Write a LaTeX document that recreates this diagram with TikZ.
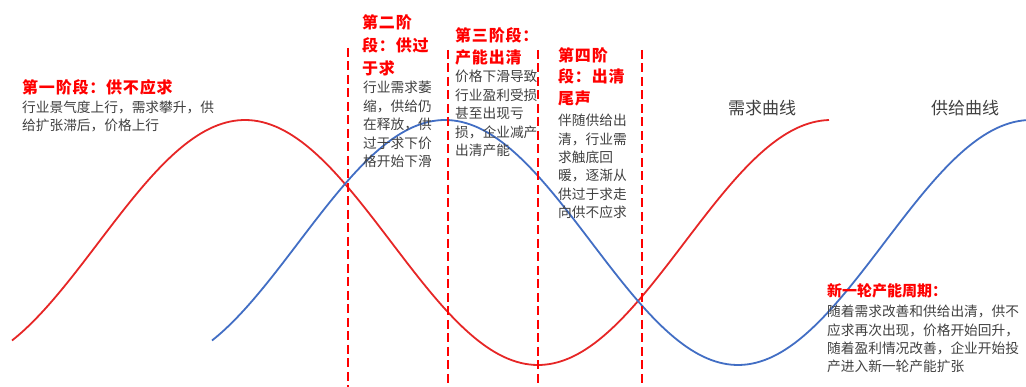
\documentclass[tikz,border=0pt]{standalone}
\usepackage{fontspec}
\setmainfont{Noto Sans CJK SC}
\definecolor{demandred}{RGB}{230,38,38}
\definecolor{supplyblue}{RGB}{66,110,196}
\definecolor{bodygray}{RGB}{64,64,64}
\definecolor{titlered}{RGB}{255,0,0}
\tikzset{
  curve/.style={line width=1.8pt},
  divider/.style={draw=titlered, line width=2pt, dash pattern=on 9pt off 4.5pt},
  stagetitle/.style={anchor=north west, inner sep=0pt, align=left, text=titlered, font=\bfseries\fontsize{16}{#1}\selectfont\addfontfeature{LetterSpace=5}},
  stagebody/.style={anchor=north west, inner sep=0pt, align=left, text=bodygray, font=\fontsize{13.7}{#1}\selectfont},
  curvelabel/.style={inner sep=0pt, text=bodygray, font=\fontsize{17}{20}\selectfont}
}
\begin{document}
\begin{tikzpicture}[x=1pt,y=-1pt]
\useasboundingbox (0,0) rectangle (1026,387);
% curves
\draw[curve, demandred] plot[domain=12:829, samples=200, smooth] (\x, {242.5-122.5*cos((\x-245)/293*180)});
\draw[curve, supplyblue] plot[domain=212:1026, samples=200, smooth] (\x, {242.5-122.5*cos((\x-445)/293*180)});
% dividers
\coordinate (d1t) at (348,48); \coordinate (d1b) at (348,387);
\coordinate (d2t) at (448,50); \coordinate (d2b) at (448,387);
\coordinate (d3t) at (538,50); \coordinate (d3b) at (538,387);
\coordinate (d4t) at (642,50); \coordinate (d4b) at (642,387);
\draw[divider] (d1t) -- (d1b);
\draw[divider] (d2t) -- (d2b);
\draw[divider] (d3t) -- (d3b);
\draw[divider] (d4t) -- (d4b);
% stage 1
\node[stagetitle=20] (s1t) at (22,79.5) {第一阶段：供不应求};
\node[stagebody=18] (s1b) at (22,101) {行业景气度上行，需求攀升，供\\给扩张滞后，价格上行};
% stage 2
\node[stagetitle=23] (s2t) at (362,14) {第二阶\\段：供过\\于求};
\node[stagebody=18.5] (s2b) at (363,81) {行业需求萎\\缩，供给仍\\在释放，供\\过于求下价\\格开始下滑};
% stage 3
\node[stagetitle=22] (s3t) at (455,27) {第三阶段：\\产能出清};
\node[stagebody=18.5] (s3b) at (455,70) {价格下滑导致\\行业盈利受损\\甚至出现亏\\损，企业减产\\出清产能};
% stage 4
\node[stagetitle=21.5] (s4t) at (558,47) {第四阶\\段：出清\\尾声};
\node[stagebody=18.4] (s4b) at (558,114) {伴随供给出\\清，行业需\\求触底回\\暖，逐渐从\\供过于求走\\向供不应求};
% new cycle
\node[anchor=north west, inner sep=0pt, text=titlered, font=\bfseries\fontsize{15}{18}\selectfont] (nct) at (827,283.5) {新一轮产能周期：};
\node[stagebody=18.3] (ncb) at (827,305) {随着需求改善和供给出清，供不\\应求再次出现，价格开始回升，\\随着盈利情况改善，企业开始投\\产进入新一轮产能扩张};
% curve labels
\node[curvelabel] (dl) at (762,108) {需求曲线};
\node[curvelabel] (sl) at (965,108) {供给曲线};
\end{tikzpicture}
\end{document}
